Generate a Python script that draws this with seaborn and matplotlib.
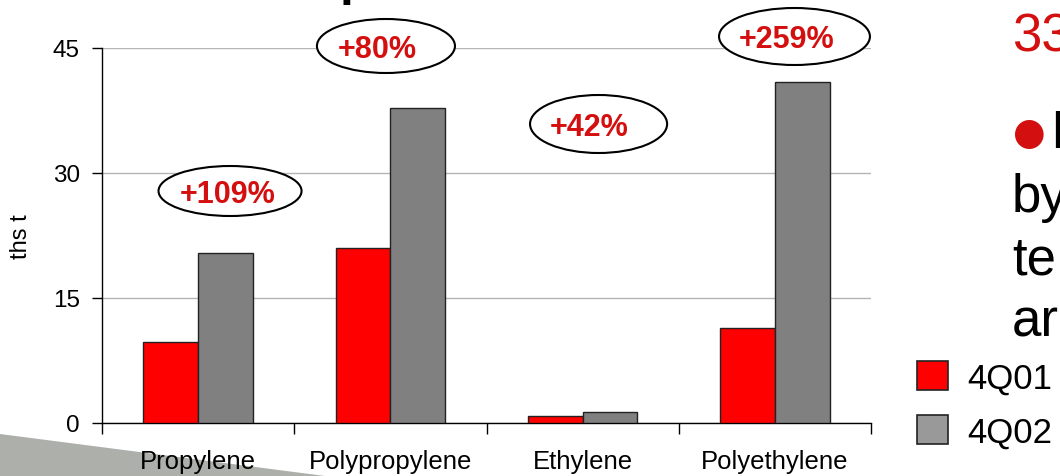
import matplotlib
matplotlib.use("Agg")
import matplotlib.pyplot as plt
import seaborn as sns
import pandas as pd
from matplotlib.patches import Ellipse, Patch, Polygon

# ---- data -------------------------------------------------------------
categories = ["Propylene", "Polypropylene", "Ethylene", "Polyethylene"]
periods = ["4Q01", "4Q02"]
volume_4q01 = [9.75, 21.0, 0.9, 11.4]     # ths t
volume_4q02 = [20.4, 37.8, 1.28, 40.9]    # ths t
growth_labels = ["+109%", "+80%", "+42%", "+259%"]
y_ticks = [0, 15, 30, 45]
side_lines = ["by", "te", "ar"]

# ---- layout / style ---------------------------------------------------
bar_colors = {"4Q01": "#FF0000", "4Q02": "#808080"}
legend_colors = ["#FF0000", "#999999"]
accent = "#D40F0F"
# growth bubbles: centre (category units, ths t), size, text nudge (pt)
bubble_x = [0.166, 0.977, 2.083, 3.102]
bubble_y = [27.84, 45.24, 35.88, 46.38]
bubble_w = [0.744, 0.718, 0.713, 0.785]
bubble_h = [6.0, 6.48, 6.96, 6.84]
text_dx = [-1.5, -6.5, -7.0, -6.0]

df = pd.DataFrame({
    "product": categories * 2,
    "period": [periods[0]] * len(categories) + [periods[1]] * len(categories),
    "volume": volume_4q01 + volume_4q02,
})

sns.set_style("white")
plt.rcParams["font.family"] = ["Liberation Sans", "DejaVu Sans"]

W, H = 1060, 477
fig = plt.figure(figsize=(W / 100, H / 100), dpi=100)
ax = fig.add_axes([102 / W, 1 - 424 / H, (871 - 102) / W, (424 - 49) / H])

sns.barplot(data=df, x="product", y="volume", hue="period",
            order=categories, hue_order=periods, palette=bar_colors,
            saturation=1, width=0.57, edgecolor="#222222", linewidth=1.0,
            legend=False, ax=ax, zorder=3)

ax.set_xlim(-0.5, len(categories) - 0.5)
ax.set_ylim(0, 45)
ax.set_yticks(y_ticks)
ax.set_xlabel("")
ax.set_ylabel("ths t", fontsize=17, color="black")
ax.yaxis.set_label_coords(-0.091, 0.5)

ax.set_axisbelow(True)
ax.yaxis.grid(True, color="#b5b5b5", linewidth=1.0, zorder=0)
ax.xaxis.grid(False)
for side in ("top", "right"):
    ax.spines[side].set_visible(False)
for side in ("left", "bottom"):
    ax.spines[side].set_color("black")
    ax.spines[side].set_linewidth(1.0)

ax.tick_params(axis="y", left=True, length=7, width=1, color="black",
               labelsize=17.5, labelcolor="black", pad=9)
ax.set_xticks([i - 0.5 for i in range(len(categories) + 1)], minor=True)
ax.tick_params(axis="x", which="major", bottom=True, length=0,
               labelsize=18.5, labelcolor="black", pad=19)
ax.tick_params(axis="x", which="minor", bottom=True, length=8, width=1,
               color="black", direction="out")

# growth bubbles
for x, y, w, h, lab, dx in zip(bubble_x, bubble_y, bubble_w, bubble_h,
                               growth_labels, text_dx):
    ax.add_patch(Ellipse((x, y), w, h, facecolor="white", edgecolor="black",
                         linewidth=1.5, clip_on=False, zorder=5))
    ax.annotate(lab, (x, y), xytext=(dx, -0.358 * 22), textcoords="offset points",
                ha="center", va="baseline", fontsize=22, fontweight="bold",
                color=accent, annotation_clip=False, zorder=6)

# legend
handles = [Patch(facecolor=c, edgecolor="#222222", linewidth=1.2)
           for c in legend_colors]
ax.legend(handles, periods, loc="upper left",
          bbox_to_anchor=(917 / W, 1 - 362 / H), bbox_transform=fig.transFigure,
          frameon=False, fontsize=25, labelcolor="black",
          handlelength=0.9, handleheight=0.9,
          handletextpad=0.55, labelspacing=0.6, borderpad=0, borderaxespad=0)

# slide decoration and surrounding text
fig.add_artist(Polygon([[0, 1 - 435 / H], [325 / W, 0], [0, 0]],
                       closed=True, transform=fig.transFigure,
                       facecolor="#adafaa", edgecolor="none", zorder=-1))
fig.text(339.5 / W, 1 + 4.5 / H, "p", fontsize=36, fontweight="bold",
         color="black", ha="left", va="baseline")
fig.text(1012 / W, 1 - 52 / H, "33", fontsize=38, color=accent,
         ha="left", va="baseline")
fig.text(1013 / W, 1 - 134 / H, "\u25cf", fontsize=27, color=accent,
         family=["DejaVu Sans"], ha="left", va="center")
fig.text(1050 / W, 1 - 148 / H, "I", fontsize=38, color="black",
         ha="left", va="baseline")
for txt, base in zip(side_lines, [212, 275, 337]):
    fig.text(1012 / W, 1 - base / H, txt, fontsize=38, color="black",
             ha="left", va="baseline")

fig.savefig("out.png", dpi=100)
